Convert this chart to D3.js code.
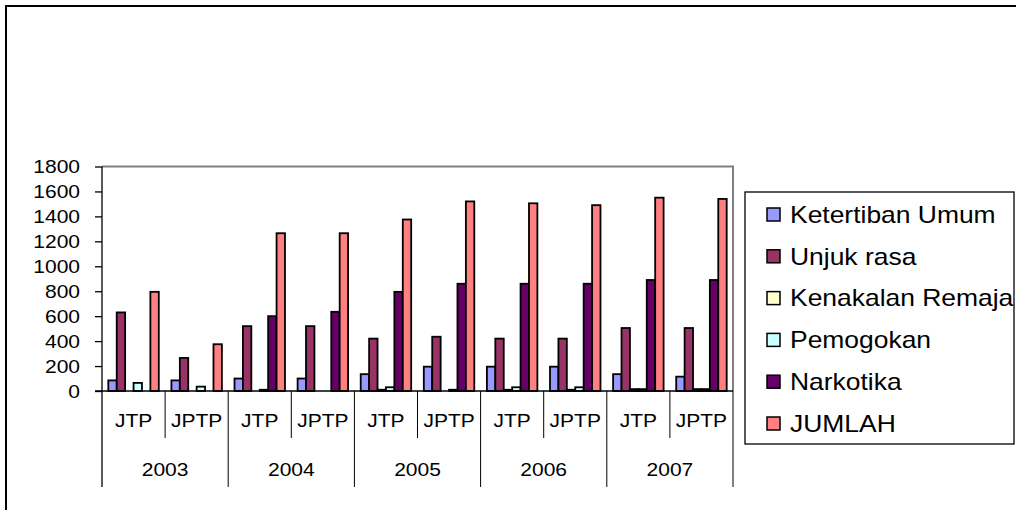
<!DOCTYPE html>
<head>
    <meta charset="utf-8">
    <title>Ketertiban chart</title>
    <style>
        body { margin: 0; background: #fff; }
        text { font-family: "Liberation Sans", Arial, sans-serif; fill: #000; }
    </style>
</head>
<body>
    <svg width="1016" height="510"></svg>

    <script src="https://d3js.org/d3.v7.min.js"></script>
    <script>
        // data
        var years = ["2003", "2004", "2005", "2006", "2007"];
        var subs = ["JTP", "JPTP"];
        var seriesNames = ["Ketertiban Umum", "Unjuk rasa", "Kenakalan Remaja", "Pemogokan", "Narkotika", "JUMLAH"];
        var seriesColors = ["#9999ff", "#993366", "#ffffcc", "#ccffff", "#660066", "#ff8080"];

        var ketertiban = [85, 85, 100, 100, 135, 195, 195, 195, 135, 115];
        var unjukRasa = [630, 265, 520, 520, 420, 435, 420, 420, 505, 505];
        var kenakalan = [0, 0, 0, 0, 10, 0, 10, 10, 15, 15];
        var pemogokan = [65, 35, 10, 0, 30, 10, 30, 30, 15, 15];
        var narkotika = [0, 0, 600, 635, 795, 860, 860, 860, 890, 890];
        var jumlah = [795, 375, 1265, 1265, 1375, 1520, 1505, 1490, 1550, 1540];
        var yTicks = [0, 200, 400, 600, 800, 1000, 1200, 1400, 1600, 1800];

        var series = [ketertiban, unjukRasa, kenakalan, pemogokan, narkotika, jumlah];

        var cats = [];
        years.forEach(function (y) { subs.forEach(function (s) { cats.push(y + "|" + s); }); });

        var svg = d3.select("svg");

        // outer frame (left + top only)
        svg.append("path")
            .attr("d", "M6,510V6H1016")
            .attr("fill", "none")
            .attr("stroke", "#000")
            .attr("stroke-width", 2);

        var pLeft = 102, pRight = 733, pTop = 166.5, zero = 391, pBottom = 487;

        var x = d3.scaleBand().domain(cats).range([pLeft, pRight]).padding(0);
        var xs = d3.scaleBand().domain(d3.range(6)).range([0, x.bandwidth()])
            .paddingInner(0).paddingOuter(0.75);
        var y = d3.scaleLinear().domain([0, 1800]).range([zero, pTop]);

        // plot frame: top and right grey
        svg.append("path")
            .attr("d", "M" + pLeft + "," + pTop + "H" + pRight + "V" + zero)
            .attr("fill", "none")
            .attr("stroke", "#808080")
            .attr("stroke-width", 2);

        // bars
        var g = svg.append("g");
        series.forEach(function (vals, si) {
            g.selectAll(".b" + si)
                .data(vals.map(function (v, i) { return { v: v, c: cats[i] }; }).filter(function (d) { return d.v > 0; }))
                .enter().append("rect")
                .attr("x", function (d) { return x(d.c) + xs(si); })
                .attr("width", xs.bandwidth())
                .attr("y", function (d) { return y(d.v); })
                .attr("height", function (d) { return zero - y(d.v); })
                .attr("fill", seriesColors[si])
                .attr("stroke", "#000")
                .attr("stroke-width", 1.8);
        });

        // y axis
        var yAxis = svg.append("g")
            .attr("transform", "translate(" + pLeft + ",0)")
            .call(d3.axisLeft(y).tickValues(yTicks).tickFormat(d3.format("d")).tickSize(7).tickSizeOuter(0));
        yAxis.select(".domain").remove();
        yAxis.selectAll("line").attr("stroke", "#000").attr("stroke-width", 1.3);
        yAxis.selectAll("text")
            .attr("x", -22 / 1.2)
            .attr("dy", "0.36em")
            .attr("transform", "scale(1.2,1)")
            .style("font-size", "17.5px")
            .style("font-family", "'Liberation Sans', Arial, sans-serif")
            .style("fill", "#000");

        // value axis line extends down through category rows
        svg.append("line")
            .attr("x1", pLeft).attr("x2", pLeft).attr("y1", pTop).attr("y2", pBottom)
            .attr("stroke", "#000").attr("stroke-width", 1.3);
        svg.append("line")
            .attr("x1", pLeft - 7).attr("x2", pRight).attr("y1", zero).attr("y2", zero)
            .attr("stroke", "#000").attr("stroke-width", 1.5);

        // category separators
        cats.forEach(function (c, i) {
            if (i === 0) return;
            var xx = x(c);
            svg.append("line")
                .attr("x1", xx).attr("x2", xx)
                .attr("y1", zero).attr("y2", i % 2 === 0 ? pBottom : 438)
                .attr("stroke", "#000").attr("stroke-width", 1);
        });
        svg.append("line")
            .attr("x1", pRight).attr("x2", pRight).attr("y1", zero).attr("y2", pBottom)
            .attr("stroke", "#000").attr("stroke-width", 1);

        function label(parent, tx, ty, s, size, sx, anchor) {
            parent.append("g")
                .attr("transform", "translate(" + tx + "," + ty + ") scale(" + sx + ",1)")
                .append("text")
                .attr("text-anchor", anchor)
                .attr("dy", "0.36em")
                .style("font-size", size + "px")
                .text(s);
        }

        cats.forEach(function (c) {
            label(svg, x(c) + x.bandwidth() / 2, 421, c.split("|")[1], 17.5, 1.2, "middle");
        });
        years.forEach(function (yr) {
            var cx = x(yr + "|JTP") + x.bandwidth();
            label(svg, cx, 470, yr, 17.5, 1.2, "middle");
        });

        // legend
        var leg = svg.append("g");
        leg.append("rect")
            .attr("x", 745).attr("y", 192).attr("width", 269).attr("height", 252)
            .attr("fill", "#fff").attr("stroke", "#000").attr("stroke-width", 1.3);
        seriesNames.forEach(function (n, i) {
            var cy = 214.5 + i * 41.8;
            leg.append("rect")
                .attr("x", 767).attr("y", cy - 6.5).attr("width", 13).attr("height", 13)
                .attr("fill", seriesColors[i]).attr("stroke", "#000").attr("stroke-width", 1.5);
            label(leg, 790, cy, n, 23, 1.15, "start");
        });
    </script>
</body>
